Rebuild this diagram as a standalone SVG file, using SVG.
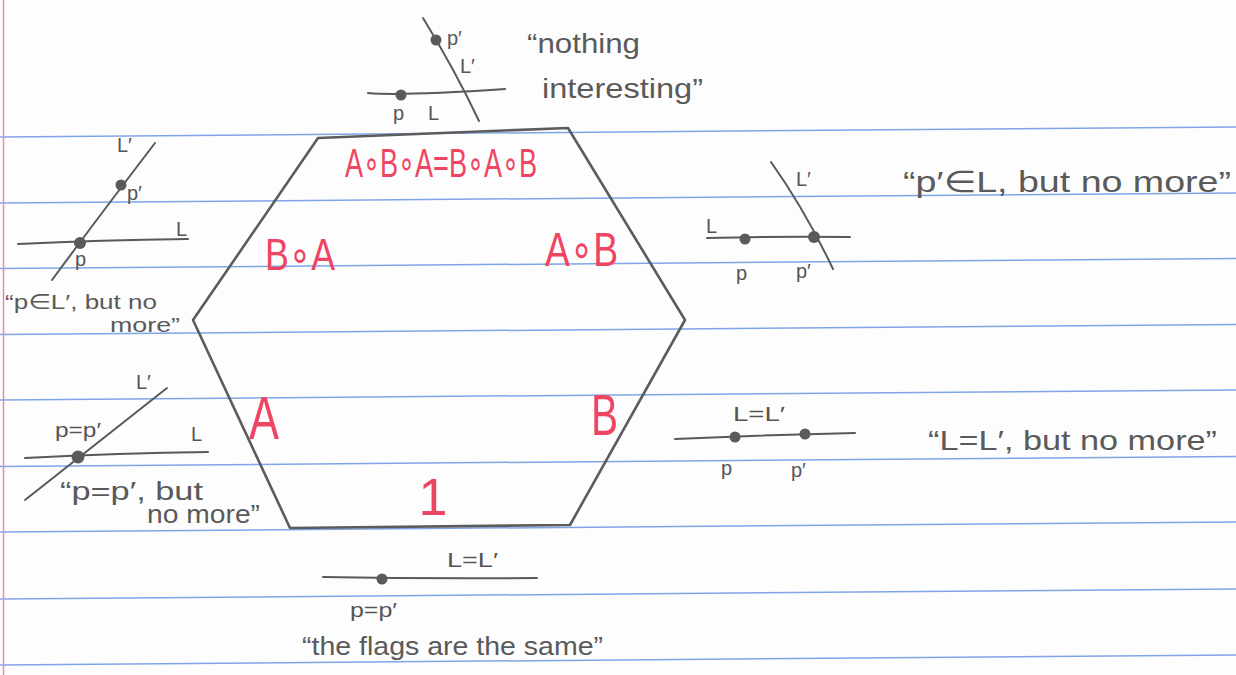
<svg xmlns="http://www.w3.org/2000/svg" width="1236" height="675" viewBox="0 0 1236 675">
<style>
.rule{stroke:#7fa5e8;stroke-width:1.5;fill:none}
.margin{stroke:#f28a96;stroke-width:1.5}
.pen{stroke:#595959;stroke-width:2;fill:none;stroke-linecap:round;stroke-linejoin:round}
.hex{stroke:#5c5c5c;stroke-width:2.6;fill:none;stroke-linecap:round;stroke-linejoin:round}
.dot{fill:#5a5a5a}
.hw{font-family:"Liberation Sans","DejaVu Sans",sans-serif;fill:#5a5a5a}
.lbl{font-family:"Liberation Sans","DejaVu Sans",sans-serif;fill:#555;font-size:20px}
.red{font-family:"Liberation Sans","DejaVu Sans",sans-serif;fill:#ee4563}
</style>
<rect width="1236" height="675" fill="#fdfdfd"/>
<g id="paper">
<line class="rule" x1="0" y1="137" x2="1236" y2="127"/>
<line class="rule" x1="0" y1="203" x2="1236" y2="193"/>
<line class="rule" x1="0" y1="268.5" x2="1236" y2="258.5"/>
<line class="rule" x1="0" y1="334.5" x2="1236" y2="324.5"/>
<line class="rule" x1="0" y1="400" x2="1236" y2="390"/>
<line class="rule" x1="0" y1="466.5" x2="1236" y2="456.5"/>
<line class="rule" x1="0" y1="532" x2="1236" y2="522"/>
<line class="rule" x1="0" y1="599" x2="1236" y2="589"/>
<line class="rule" x1="0" y1="665" x2="1236" y2="655"/>
<line class="margin" x1="3.5" y1="0" x2="3.5" y2="675"/>
</g>

<g id="hexagon">
<path class="hex" d="M318,138 L568,128 L685,320 L570,525 L290,528 L193,320 Z"/>
</g>

<g id="hexagon-labels">
<text class="red" x="345" y="177" font-size="40" textLength="192" lengthAdjust="spacingAndGlyphs">A∘B∘A=B∘A∘B</text>
<text class="red" x="265" y="270" font-size="44" textLength="70" lengthAdjust="spacingAndGlyphs">B∘A</text>
<text class="red" x="545" y="266" font-size="48" textLength="73" lengthAdjust="spacingAndGlyphs">A∘B</text>
<text class="red" x="249" y="439" font-size="62" textLength="30" lengthAdjust="spacingAndGlyphs">A</text>
<text class="red" x="591" y="435" font-size="58" textLength="27" lengthAdjust="spacingAndGlyphs">B</text>
<text class="red" x="433" y="515" font-size="52" text-anchor="middle">1</text>
</g>

<g id="flag-top">
<path class="pen" d="M368,93 Q400,96 505,89"/>
<path class="pen" d="M423,18 Q455,70 479,121"/>
<circle class="dot" cx="401" cy="95" r="5.5"/>
<circle class="dot" cx="436" cy="40" r="5.5"/>
<text class="lbl" x="393" y="120">p</text>
<text class="lbl" x="428" y="120" font-size="18">L</text>
<text class="lbl" x="447" y="45">p′</text>
<text class="lbl" x="460" y="73">L′</text>
<text class="hw" x="527" y="53" font-size="28" textLength="113" lengthAdjust="spacingAndGlyphs">“nothing</text>
<text class="hw" x="542" y="98" font-size="28" textLength="161" lengthAdjust="spacingAndGlyphs">interesting”</text>
</g>

<g id="flag-AB">
<path class="pen" d="M707,238 Q780,236 850,237"/>
<path class="pen" d="M771,162 Q805,210 833,269"/>
<circle class="dot" cx="745" cy="239" r="5.5"/>
<circle class="dot" cx="814" cy="237" r="6"/>
<text class="lbl" x="706" y="233">L</text>
<text class="lbl" x="796" y="186">L′</text>
<text class="lbl" x="736" y="280">p</text>
<text class="lbl" x="796" y="278">p′</text>
<text class="hw" x="903" y="192" font-size="30" textLength="328" lengthAdjust="spacingAndGlyphs">“p′∈L, but no more”</text>
</g>

<g id="flag-BA">
<path class="pen" d="M18,244 Q100,240 188,239"/>
<path class="pen" d="M155,143 Q100,215 52,280"/>
<circle class="dot" cx="80" cy="243" r="6"/>
<circle class="dot" cx="121" cy="185" r="5.5"/>
<text class="lbl" x="176" y="236">L</text>
<text class="lbl" x="117" y="152">L′</text>
<text class="lbl" x="127" y="200">p′</text>
<text class="lbl" x="75" y="266">p</text>
<text class="hw" x="5" y="309" font-size="21" textLength="152" lengthAdjust="spacingAndGlyphs">“p∈L′, but no</text>
<text class="hw" x="110" y="332" font-size="20" textLength="70" lengthAdjust="spacingAndGlyphs">more”</text>
</g>

<g id="flag-A">
<path class="pen" d="M25,458 Q120,453 208,452"/>
<path class="pen" d="M25,500 Q95,445 167,388"/>
<circle class="dot" cx="78" cy="457" r="6.5"/>
<text class="lbl" x="191" y="441">L</text>
<text class="lbl" x="136" y="389">L′</text>
<text class="lbl" x="55" y="437" textLength="46" lengthAdjust="spacingAndGlyphs">p=p′</text>
<text class="hw" x="60" y="500" font-size="26" textLength="143" lengthAdjust="spacingAndGlyphs">“p=p′, but</text>
<text class="hw" x="147" y="523" font-size="26" textLength="113" lengthAdjust="spacingAndGlyphs">no more”</text>
</g>

<g id="flag-B">
<path class="pen" d="M675,439 Q760,435 855,433"/>
<circle class="dot" cx="735" cy="437" r="5.5"/>
<circle class="dot" cx="805" cy="434" r="5.5"/>
<text class="lbl" x="733" y="421" textLength="52" lengthAdjust="spacingAndGlyphs">L=L′</text>
<text class="lbl" x="721" y="475" font-size="22">p</text>
<text class="lbl" x="791" y="477" font-size="22">p′</text>
<text class="hw" x="928" y="450" font-size="28" textLength="289" lengthAdjust="spacingAndGlyphs">“L=L′, but no more”</text>
</g>

<g id="flag-1">
<path class="pen" d="M323,577 Q430,579 537,578"/>
<circle class="dot" cx="382" cy="579" r="5.5"/>
<text class="lbl" x="447" y="567" textLength="51" lengthAdjust="spacingAndGlyphs">L=L′</text>
<text class="lbl" x="350" y="617" textLength="47" lengthAdjust="spacingAndGlyphs">p=p′</text>
<text class="hw" x="302" y="655" font-size="26" textLength="301" lengthAdjust="spacingAndGlyphs">“the flags are the same”</text>
</g>
</svg>
